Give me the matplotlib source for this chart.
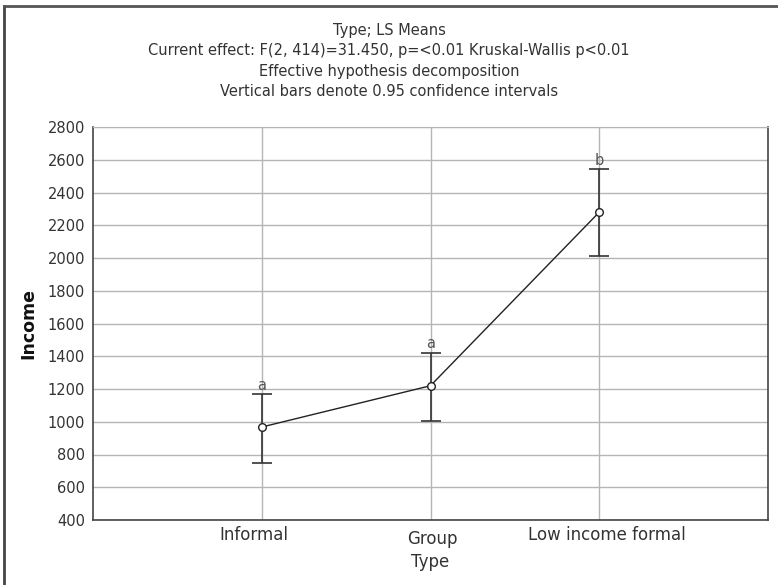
import matplotlib
matplotlib.use("Agg")
import matplotlib.pyplot as plt
from matplotlib.lines import Line2D
import matplotlib.transforms as mtrans

categories = ["Informal", "Group", "Low income formal"]
means = [968, 1220, 2279]
upper = [1170, 1422, 2542]
lower = [748, 1005, 2014]
letters = ["a", "a", "b"]
yticks = [400, 600, 800, 1000, 1200, 1400, 1600, 1800, 2000, 2200, 2400, 2600, 2800]

title_lines = [
    "Type; LS Means",
    "Current effect: F(2, 414)=31.450, p=<0.01 Kruskal-Wallis p<0.01",
    "Effective hypothesis decomposition",
    "Vertical bars denote 0.95 confidence intervals",
]

plt.rcParams['font.family'] = ['DejaVu Sans']
txt = '#333333'
fig = plt.figure(figsize=(7.78, 5.85), dpi=100)
ax = fig.add_axes([93.3/778, 65/585, (767.7-93.3)/778, (520-127)/585])

x = [1, 2, 3]
yerr = [[m - l for m, l in zip(means, lower)], [u - m for u, m in zip(upper, means)]]
ax.errorbar(x, means, yerr=yerr, fmt='none', ecolor='#333333', elinewidth=1.2,
            capsize=7, capthick=1.2, zorder=3)
ax.plot(x, means, color='#222222', lw=1.0, marker='o', markersize=5.5,
        markerfacecolor='white', markeredgecolor='#222222', markeredgewidth=1.0, zorder=4)
for xi, u, t in zip(x, upper, letters):
    ax.annotate(t, (xi, u), xytext=(0, 1), textcoords='offset points',
                ha='center', va='bottom', fontsize=10.5, color='#555555', zorder=5)

ax.set_xlim(0, 4)
ax.set_ylim(400, 2800)
ax.set_yticks(yticks)
ax.set_xticks(x)
ax.set_xticklabels(categories)
ax.grid(True, color='#b5b5b5', lw=1.0)
ax.set_axisbelow(True)
for s in ['left', 'bottom', 'right']:
    ax.spines[s].set_color('#444444')
    ax.spines[s].set_linewidth(1.2)
ax.spines['top'].set_color('#b5b5b5')
ax.tick_params(axis='y', length=0, pad=6, labelsize=10.5, labelcolor=txt)
ax.tick_params(axis='x', length=0, pad=4, labelsize=12, labelcolor=txt)

ticks = ax.xaxis.get_major_ticks()
ticks[1].set_pad(7)
dx_px = [-8, 2, 8]
for lab, d in zip(ax.get_xticklabels(), dx_px):
    lab.set_transform(lab.get_transform() + mtrans.ScaledTranslation(d/100, 0, fig.dpi_scale_trans))

ax.set_xlabel("Type", fontsize=12, color=txt, labelpad=4)
ax.set_ylabel("Income", fontsize=12.5, fontweight='bold', color='#111111', labelpad=7)

ys = [30, 50.7, 71.4, 92]
for t, yy in zip(title_lines, ys):
    fig.text(0.5, 1 - yy/585, t, ha='center', va='center', fontsize=10.5, color=txt)

fig.add_artist(Line2D([4/778, 4/778], [0, 1 - 6/585], transform=fig.transFigure, color='#444444', lw=2))
fig.add_artist(Line2D([4/778, 1], [1 - 6/585, 1 - 6/585], transform=fig.transFigure, color='#555555', lw=2))

fig.savefig("out.png", dpi=100)
